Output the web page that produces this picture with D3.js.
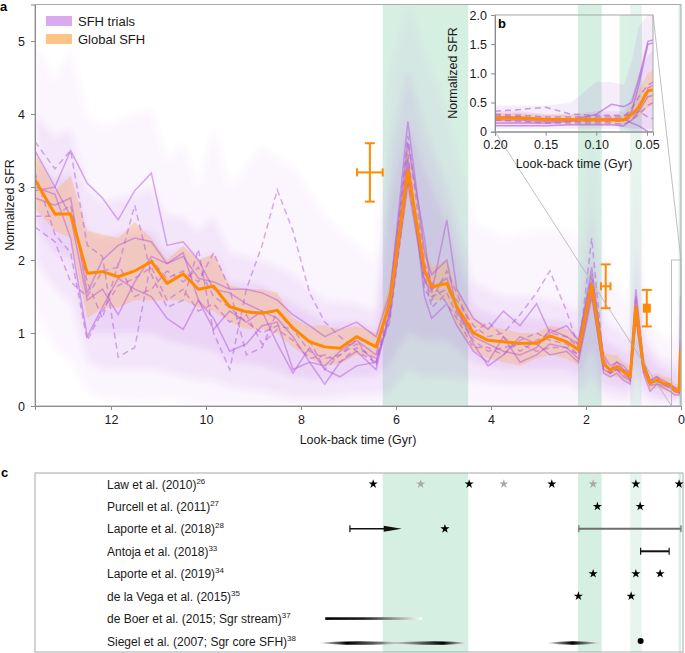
<!DOCTYPE html>
<html>
<head>
<meta charset="utf-8">
<script src="https://cdn.jsdelivr.net/npm/d3@7"></script>
<style>
  body { margin: 0; background: #fff; }
  svg { display: block; font-family: "Liberation Sans", Arial, sans-serif; }
</style>
</head>
<body>
<svg id="chart"></svg>
<script>
let width = 685;
let height = 653;
let fontFamily = "Liberation Sans, Arial, sans-serif";

// ---- panel a data ----
const timeBins = [13.6, 13.18, 12.85, 12.5, 12.18, 11.85, 11.5, 11.15, 10.82, 10.48,
  10.16, 9.84, 9.5, 9.15, 8.82, 8.5, 8.17, 7.82, 7.5, 7.18,
  6.83, 6.42, 6.13, 5.75, 5.4, 5.25, 4.93, 4.72, 4.37, 4.06,
  3.74, 3.39, 3.04, 2.76, 2.41, 2.16, 1.88, 1.63, 1.49, 1.35,
  1.21, 1.07, 0.95, 0.79, 0.65, 0.51, 0.37, 0.23, 0.13, 0.04, 0.01];

const globalSfh = [3.10, 2.63, 2.63, 1.82, 1.84, 1.77, 1.85, 1.98, 1.68, 1.81,
  1.60, 1.64, 1.36, 1.29, 1.27, 1.31, 1.07, 0.88, 0.81, 0.79,
  0.95, 0.81, 1.41, 3.23, 1.86, 1.63, 1.68, 1.36, 1.00, 0.90,
  0.88, 0.86, 0.86, 0.96, 0.88, 0.77, 1.66, 0.58, 0.49, 0.54,
  0.47, 0.40, 1.36, 0.54, 0.31, 0.36, 0.31, 0.29, 0.21, 0.21, 0.77];
const globalLow = [2.70, 2.40, 2.30, 1.20, 1.35, 1.35, 1.45, 1.45, 1.45, 1.45,
  1.35, 1.30, 1.15, 1.05, 1.05, 1.00, 0.80, 0.65, 0.55, 0.58,
  0.70, 0.65, 1.20, 2.90, 1.70, 1.45, 1.45, 1.10, 0.75, 0.65,
  0.60, 0.55, 0.65, 0.70, 0.65, 0.55, 1.40, 0.45, 0.40, 0.40,
  0.35, 0.30, 1.15, 0.40, 0.22, 0.25, 0.22, 0.20, 0.15, 0.15, 0.55];
const globalHigh = [3.50, 2.95, 3.15, 2.40, 2.35, 2.30, 2.52, 2.30, 2.00, 2.20,
  2.00, 2.08, 1.65, 1.60, 1.60, 1.55, 1.20, 1.10, 1.10, 1.05,
  1.10, 1.00, 1.70, 3.60, 2.20, 1.90, 2.00, 1.60, 1.20, 1.10,
  1.05, 1.00, 1.00, 1.10, 1.05, 0.95, 1.85, 0.75, 0.70, 0.70,
  0.60, 0.55, 1.55, 0.70, 0.42, 0.45, 0.40, 0.38, 0.30, 0.30, 1.00];

const trialSolidA = [3.50, 3.00, 3.50, 3.05, 2.85, 2.55, 2.95, 3.19, 2.20, 2.25,
  2.00, 1.60, 1.55, 1.40, 1.30, 1.20, 0.95, 0.60, 0.55, 0.75,
  0.90, 0.70, 1.50, 3.90, 2.10, 1.80, 2.00, 1.30, 0.95, 0.85,
  0.75, 0.70, 0.80, 1.05, 0.95, 0.85, 1.90, 0.60, 0.50, 0.60,
  0.50, 0.45, 1.60, 0.60, 0.35, 0.40, 0.30, 0.30, 0.25, 0.20, 1.50];
const trialSolidB = [3.00, 2.90, 2.30, 0.95, 1.35, 1.75, 1.60, 1.50, 1.20, 1.05,
  1.45, 1.20, 0.75, 0.85, 1.10, 1.15, 0.50, 0.60, 0.30, 0.60,
  0.75, 0.50, 1.30, 3.40, 1.50, 1.20, 1.40, 1.10, 0.75, 0.60,
  0.95, 0.60, 0.70, 0.85, 0.80, 0.65, 1.55, 0.45, 0.40, 0.45,
  0.35, 0.30, 1.20, 0.45, 0.20, 0.30, 0.25, 0.20, 0.15, 0.15, 0.60];
const trialSolidC = [2.85, 2.75, 2.85, 1.55, 2.00, 2.20, 2.30, 2.25, 1.95, 2.05,
  1.75, 1.70, 1.60, 1.60, 1.55, 1.45, 1.25, 1.10, 0.95, 1.05,
  1.15, 0.95, 1.55, 3.60, 2.30, 1.55, 2.55, 1.60, 1.20, 1.05,
  1.30, 1.10, 1.40, 1.00, 1.10, 0.90, 1.75, 0.70, 0.55, 0.60,
  0.55, 0.45, 1.50, 0.60, 0.35, 0.40, 0.35, 0.30, 0.25, 0.25, 0.90];
const trialSolidD = [2.95, 3.00, 2.60, 1.45, 1.60, 1.25, 1.70, 2.05, 1.95, 2.10,
  1.45, 1.05, 1.30, 1.15, 1.30, 0.85, 0.45, 0.80, 0.50, 0.40,
  0.55, 0.60, 1.25, 3.05, 1.70, 1.60, 1.75, 1.35, 0.85, 0.55,
  0.70, 0.95, 0.85, 0.70, 0.75, 0.60, 1.50, 0.50, 0.45, 0.50,
  0.40, 0.35, 1.30, 0.50, 0.28, 0.30, 0.28, 0.25, 0.20, 0.18, 0.50];
const trialDashedA = [3.62, 3.25, 3.50, 2.20, 2.05, 0.67, 0.80, 2.00, 1.75, 1.85,
  1.70, 2.10, 1.60, 0.70, 0.80, 1.30, 1.05, 0.75, 0.65, 0.70,
  0.90, 0.55, 1.35, 3.70, 1.95, 1.70, 1.40, 1.20, 0.80, 0.80,
  0.70, 0.90, 1.00, 0.90, 0.85, 0.70, 2.30, 0.60, 0.45, 0.55,
  0.50, 0.35, 1.45, 0.50, 0.30, 0.38, 0.30, 0.28, 0.20, 0.20, 0.70];
const trialDashedB = [2.45, 2.25, 1.70, 1.50, 1.85, 1.90, 2.75, 1.80, 1.35, 1.45,
  2.15, 1.00, 0.50, 1.60, 2.20, 2.96, 2.40, 1.55, 1.15, 0.95,
  0.75, 0.60, 1.20, 3.30, 1.75, 1.50, 1.60, 1.45, 1.10, 0.95,
  1.00, 1.25, 1.55, 1.85, 1.30, 0.80, 1.70, 0.55, 0.50, 0.50,
  0.45, 0.40, 1.25, 0.55, 0.35, 0.35, 0.30, 0.28, 0.22, 0.20, 0.80];
const trialDashedC = [2.60, 2.60, 2.75, 1.70, 1.20, 1.95, 1.50, 1.60, 1.85, 1.70,
  1.90, 1.50, 1.35, 1.15, 1.00, 1.10, 1.05, 0.90, 0.50, 0.70,
  0.85, 0.60, 1.45, 3.45, 1.60, 1.45, 1.85, 1.55, 1.00, 1.15,
  0.95, 0.75, 0.90, 1.00, 0.95, 0.80, 1.80, 0.65, 0.50, 0.55,
  0.50, 0.42, 1.40, 0.55, 0.32, 0.35, 0.32, 0.30, 0.22, 0.22, 0.75];
const trialDashedD = [3.20, 2.35, 2.10, 0.90, 1.30, 1.65, 1.75, 1.90, 1.45, 1.60,
  1.30, 1.40, 1.15, 1.25, 0.85, 1.05, 0.90, 0.65, 0.70, 0.60,
  0.80, 0.65, 1.15, 3.10, 1.80, 1.35, 1.55, 1.25, 0.90, 0.75,
  0.80, 0.85, 0.75, 0.80, 0.80, 0.70, 1.60, 0.50, 0.45, 0.50,
  0.42, 0.38, 1.20, 0.48, 0.30, 0.33, 0.30, 0.25, 0.20, 0.18, 0.60];

// spread of all trials (the purple haze)
const hazeTime = [13.6, 13.18, 12.85, 12.5, 12.18, 11.5, 11.15, 10.82, 10.48, 10.16,
  9.84, 9.5, 8.82, 8.17, 7.5, 6.83, 6.42, 6.13, 5.75, 5.4,
  4.93, 4.37, 3.74, 3.04, 2.41, 2.16, 1.88, 1.63, 1.21, 1.07,
  0.95, 0.79, 0.51, 0.23, 0.04, 0.01];
const hazeOuterLow = [1.3, 0.8, 0.6, 0.2, 0.1, 0.05, 0.05, 0.1, 0.05, 0,
  0, 0, 0, 0, 0, 0, 0, 0, 0, 0,
  0, 0, 0, 0, 0, 0, 0, 0, 0, 0,
  0, 0, 0, 0, 0, 0];
const hazeOuterHigh = [4.93, 4.47, 4.88, 3.96, 3.83, 3.99, 4.05, 3.37, 3.6, 3.0,
  3.82, 3.0, 3.55, 3.27, 2.6, 2.2, 2.0, 4.5, 5.5, 4.8,
  4.0, 2.5, 2.3, 2.4, 2.4, 2.2, 3.6, 1.9, 1.5, 1.3,
  3.2, 1.4, 1.0, 0.9, 1.0, 2.0];
const hazeMidLow = [2.0, 1.6, 1.4, 0.6, 0.5, 0.5, 0.5, 0.45, 0.4, 0.35,
  0.35, 0.25, 0.2, 0.1, 0.1, 0.15, 0.15, 0.2, 0.5, 0.4,
  0.4, 0.35, 0.3, 0.3, 0.3, 0.2, 0.4, 0.15, 0.1, 0.1,
  0.5, 0.1, 0.05, 0.05, 0.05, 0.1];
const hazeMidHigh = [4.0, 3.7, 3.8, 3.0, 2.8, 2.9, 3.0, 2.6, 2.6, 2.4,
  2.6, 2.1, 2.0, 1.8, 1.45, 1.4, 1.3, 3.5, 4.6, 3.8,
  3.0, 1.7, 1.5, 1.5, 1.4, 1.3, 2.6, 1.2, 1.0, 0.9,
  2.2, 1.0, 0.7, 0.6, 0.6, 1.5];
const hazeInnerLow = [2.5, 2.1, 2.0, 1.0, 1.0, 1.0, 1.0, 0.9, 0.85, 0.8,
  0.75, 0.6, 0.55, 0.4, 0.35, 0.4, 0.4, 0.6, 1.0, 0.9,
  0.9, 0.6, 0.5, 0.5, 0.5, 0.4, 0.8, 0.3, 0.25, 0.2,
  0.7, 0.25, 0.15, 0.12, 0.1, 0.3];
const hazeInnerHigh = [3.4, 3.1, 3.2, 2.4, 2.3, 2.4, 2.4, 2.1, 2.2, 2.0,
  2.1, 1.7, 1.65, 1.4, 1.15, 1.15, 1.05, 2.8, 3.9, 3.2,
  2.5, 1.35, 1.2, 1.2, 1.15, 1.0, 2.0, 0.9, 0.75, 0.65,
  1.7, 0.8, 0.55, 0.45, 0.45, 1.1];

// independent estimates (orange error bars)
const estTime = [6.55, 1.585, 0.72];
const estTimeErr = [0.27, 0.1, 0.08];
const estSfr = [3.2, 1.64, 1.34];
const estSfrErr = [0.4, 0.3, 0.25];
const estMarker = ["none", "none", "square"];

// pericentre passages (green bands), Gyr
const passages = [[6.28, 4.48], [2.17, 1.67], [1.07, 0.83], [0.05, 0]];

// ---- panel b data ----
const insetTime = [0.2, 0.175, 0.15, 0.125, 0.1, 0.085, 0.073, 0.065, 0.058, 0.049, 0.044];
const insetGlobal = [0.24, 0.23, 0.21, 0.21, 0.20, 0.20, 0.20, 0.30, 0.42, 0.70, 0.72];
const insetGlobalLow = [0.16, 0.15, 0.14, 0.14, 0.13, 0.13, 0.13, 0.18, 0.25, 0.42, 0.45];
const insetGlobalHigh = [0.32, 0.31, 0.29, 0.29, 0.28, 0.28, 0.28, 0.45, 0.7, 1.0, 1.05];
const insetHazeHigh = [0.45, 0.45, 0.45, 0.5, 0.85, 0.85, 0.8, 1.2, 1.8, 2.0, 2.0];
const insetHazeLow = [0.05, 0.05, 0.05, 0.05, 0.05, 0.05, 0.05, 0, 0, 0, 0];
const insetHazeMidHigh = [0.35, 0.35, 0.3, 0.3, 0.35, 0.35, 0.35, 0.6, 1.0, 1.3, 1.4];
const insetHazeMidLow = [0.1, 0.1, 0.1, 0.1, 0.1, 0.1, 0.08, 0.05, 0.05, 0.05, 0.05];
const insetSolidA = [0.15, 0.15, 0.15, 0.18, 0.2, 0.2, 0.2, 0.35, 0.8, 1.5, 1.52];
const insetSolidB = [0.2, 0.2, 0.18, 0.2, 0.3, 0.47, 0.43, 0.5, 0.9, 1.55, 1.57];
const insetSolidC = [0.1, 0.1, 0.1, 0.12, 0.12, 0.12, 0.1, 0.2, 0.35, 0.6, 0.62];
const insetSolidD = [0.25, 0.25, 0.22, 0.22, 0.22, 0.22, 0.22, 0.15, 0.1, 0.0, 0.0];
const insetDashedA = [0.35, 0.38, 0.42, 0.3, 0.28, 0.28, 0.28, 0.3, 0.35, 0.25, 0.22];
const insetDashedB = [0.3, 0.28, 0.25, 0.25, 0.25, 0.25, 0.25, 0.4, 0.6, 0.8, 0.85];
const insetDashedC = [0.2, 0.18, 0.15, 0.15, 0.15, 0.15, 0.12, 0.2, 0.3, 0.45, 0.5];
const insetDashedD = [0.28, 0.25, 0.2, 0.18, 0.18, 0.18, 0.18, 0.25, 0.45, 0.75, 0.8];
const insetPassages = [[0.077, 0.055]];

// ---- panel c data ----
const refNames = ["Law et al. (2010)", "Purcell et al. (2011)", "Laporte et al. (2018)",
  "Antoja et al. (2018)", "Laporte et al. (2019)", "de la Vega et al. (2015)",
  "de Boer et al. (2015; Sgr stream)", "Siegel et al. (2007; Sgr core SFH)"];
const refNums = ["26", "27", "28", "33", "34", "35", "37", "38"];
const starRef = [0, 0, 0, 0, 0, 0, 0, 0, 1, 1, 2, 4, 4, 4, 5, 5];
const starTime = [6.48, 5.48, 4.46, 3.73, 2.72, 1.85, 0.95, 0.04, 1.76, 0.86, 4.97, 1.85, 0.95, 0.44, 2.16, 1.05];
const starFaint = [false, true, false, true, false, true, false, false, false, false, false, false, false, false, false, false];
const rangeRef = [2, 3];
const rangeFrom = [2.15, 0.85];
const rangeTo = [0, 0.25];
const arrowFrom = 6.97;
const arrowTo = 5.88;
const streamFrom = 7.49;
const streamTo = 5.45;
const siegelFrom = [7.64, 6.29, 2.86];
const siegelPeak = [7.03, 5.01, 2.29];
const siegelTo = [5.5, 4.48, 1.64];
const siegelPoint = 0.85;

// ---- setup ----
let svg = d3.select("svg#chart").attr("width", width).attr("height", height);
let defs = svg.append("defs");

let xScale = d3.scaleLinear().domain([13.6, 0]).range([35, 681]);
let yScale = d3.scaleLinear().domain([0, 5.5]).range([406, 4.5]);

let insetX = d3.scaleLinear().domain([0.2, 0.044]).range([495, 653]);
let insetY = d3.scaleLinear().domain([0, 2]).range([131.7, 15]);

let rowScale = d3.scalePoint().domain(d3.range(refNames.length)).range([484, 641]);

const purple = "#a752d4";
const lineColor = "#b35ad8";
const orange = "#ff8a00";
const bandGreen = "#d6efe3";
const bandGreenLight = "#e7f5ee";

defs.append("clipPath").attr("id", "clip-a")
  .append("rect").attr("x", 35).attr("y", 4.5).attr("width", 646).attr("height", 401.5);
defs.append("clipPath").attr("id", "clip-b")
  .append("rect").attr("x", 495).attr("y", 15).attr("width", 158).attr("height", 116.7);
defs.append("filter").attr("id", "soften")
  .attr("x", "-5%").attr("y", "-5%").attr("width", "110%").attr("height", "110%")
  .append("feGaussianBlur").attr("stdDeviation", 3);

function styleAxis(g, size) {
  g.attr("font-family", fontFamily).attr("font-size", size);
  g.selectAll("path, line").attr("stroke", "#8c8c8c");
  g.selectAll("text").attr("fill", "#1a1a1a");
}

function rows(time, lo, hi) {
  return time.map((t, i) => ({ t: t, lo: lo[i], hi: hi[i] }));
}

drawPanelA();
drawPanelB();
drawPanelC();

function drawPanelA() {
  let plot = svg.append("g").attr("clip-path", "url(#clip-a)");

  plot.append("g")
    .selectAll("rect")
    .data(passages)
    .join("rect")
    .attr("x", (d) => xScale(d[0]))
    .attr("width", (d) => xScale(d[1]) - xScale(d[0]))
    .attr("y", 4.5)
    .attr("height", 401.5)
    .attr("fill", (d, i) => (i === 2 ? bandGreenLight : bandGreen));

  let band = d3.area()
    .x((d) => xScale(d.t))
    .y0((d) => yScale(d.lo))
    .y1((d) => yScale(d.hi));

  let hazeLayers = [
    [hazeOuterLow, hazeOuterHigh, 0.05],
    [hazeMidLow, hazeMidHigh, 0.09],
    [hazeInnerLow, hazeInnerHigh, 0.12],
  ];
  let haze = plot.append("g").attr("filter", "url(#soften)");
  hazeLayers.forEach((layer) => {
    haze.append("path")
      .attr("d", band(rows(hazeTime, layer[0], layer[1])))
      .attr("fill", purple)
      .attr("opacity", layer[2]);
  });

  plot.append("path")
    .attr("d", band(rows(timeBins, globalLow, globalHigh)))
    .attr("fill", "#ffab55")
    .attr("opacity", 0.32);

  let line = d3.line().x((d, i) => xScale(timeBins[i])).y((d) => yScale(d));

  let solids = [trialSolidA, trialSolidB, trialSolidC, trialSolidD];
  let dashed = [trialDashedA, trialDashedB, trialDashedC, trialDashedD];

  plot.append("g")
    .selectAll("path")
    .data(solids)
    .join("path")
    .attr("d", line)
    .attr("fill", "none")
    .attr("stroke", lineColor)
    .attr("stroke-width", 1.5)
    .attr("opacity", 0.5);

  plot.append("g")
    .selectAll("path")
    .data(dashed)
    .join("path")
    .attr("d", line)
    .attr("fill", "none")
    .attr("stroke", lineColor)
    .attr("stroke-width", 1.5)
    .attr("stroke-dasharray", "6,4")
    .attr("opacity", 0.5);

  plot.append("path")
    .attr("d", line(globalSfh))
    .attr("fill", "none")
    .attr("stroke", orange)
    .attr("stroke-width", 3)
    .attr("stroke-linejoin", "round");

  // error bars
  let errs = svg.append("g").attr("stroke", orange).attr("stroke-width", 2).attr("fill", "none");
  estTime.forEach((t, i) => {
    let cx = xScale(t);
    let cy = yScale(estSfr[i]);
    let y0 = yScale(estSfr[i] - estSfrErr[i]);
    let y1 = yScale(estSfr[i] + estSfrErr[i]);
    let x0 = xScale(t + estTimeErr[i]);
    let x1 = xScale(t - estTimeErr[i]);
    errs.append("line").attr("x1", cx).attr("x2", cx).attr("y1", y0).attr("y2", y1);
    errs.append("line").attr("x1", cx - 5).attr("x2", cx + 5).attr("y1", y0).attr("y2", y0);
    errs.append("line").attr("x1", cx - 5).attr("x2", cx + 5).attr("y1", y1).attr("y2", y1);
    errs.append("line").attr("x1", x0).attr("x2", x1).attr("y1", cy).attr("y2", cy);
    if (estMarker[i] === "square") {
      errs.append("rect").attr("x", cx - 4).attr("y", cy - 4.5).attr("width", 8).attr("height", 9)
        .attr("fill", orange).attr("stroke", "none");
    } else {
      errs.append("line").attr("x1", x0).attr("x2", x0).attr("y1", cy - 4).attr("y2", cy + 4);
      errs.append("line").attr("x1", x1).attr("x2", x1).attr("y1", cy - 4).attr("y2", cy + 4);
    }
  });

  // frame & axes
  svg.append("rect")
    .attr("x", 35).attr("y", 4.5).attr("width", 646).attr("height", 401.5)
    .attr("fill", "none").attr("stroke", "#a8a8a8").attr("stroke-width", 1);

  svg.append("g")
    .attr("transform", "translate(0,406)")
    .call(d3.axisBottom(xScale).tickValues([12, 10, 8, 6, 4, 2, 0]).tickSize(4).tickPadding(5).tickFormat(d3.format("d")))
    .call((g) => styleAxis(g, 12.5));

  svg.append("g")
    .attr("transform", "translate(35,0)")
    .call(d3.axisLeft(yScale).tickValues([0, 1, 2, 3, 4, 5]).tickSize(4).tickPadding(6).tickFormat(d3.format("d")))
    .call((g) => styleAxis(g, 12.5));

  svg.append("text")
    .attr("x", 358).attr("y", 444)
    .attr("text-anchor", "middle")
    .attr("font-size", 12.5)
    .attr("fill", "#1a1a1a")
    .text("Look-back time (Gyr)");

  svg.append("text")
    .attr("transform", "translate(14,205) rotate(-90)")
    .attr("text-anchor", "middle")
    .attr("font-size", 12.5)
    .attr("fill", "#1a1a1a")
    .text("Normalized SFR");

  // legend
  let legend = svg.append("g");
  legend.append("rect").attr("x", 46).attr("y", 16).attr("width", 26).attr("height", 10).attr("fill", "#dba9ee");
  legend.append("rect").attr("x", 46).attr("y", 34).attr("width", 26).attr("height", 10).attr("fill", "#fdc488");
  legend.append("text").attr("x", 78).attr("y", 25.5).attr("font-size", 13).attr("fill", "#1a1a1a").text("SFH trials");
  legend.append("text").attr("x", 78).attr("y", 43.5).attr("font-size", 13).attr("fill", "#1a1a1a").text("Global SFH");

  svg.append("text").attr("x", 0).attr("y", 11).attr("font-size", 13).attr("font-weight", "bold").text("a");

  // zoom box & connectors
  let zoomG = svg.append("g").attr("stroke", "#b0b0b0").attr("stroke-width", 0.8).attr("fill", "none");
  zoomG.append("rect")
    .attr("x", xScale(0.2)).attr("y", yScale(2))
    .attr("width", xScale(0) - xScale(0.2)).attr("height", yScale(0) - yScale(2));
  zoomG.append("line")
    .attr("x1", xScale(0.2)).attr("y1", yScale(0))
    .attr("x2", insetX(0.2)).attr("y2", insetY(0));
  zoomG.append("line")
    .attr("x1", xScale(0)).attr("y1", yScale(2))
    .attr("x2", insetX(0.044)).attr("y2", insetY(2));
}

function drawPanelB() {
  let plot = svg.append("g").attr("clip-path", "url(#clip-b)");

  plot.append("g")
    .selectAll("rect")
    .data(insetPassages)
    .join("rect")
    .attr("x", (d) => insetX(d[0]))
    .attr("width", (d) => insetX(d[1]) - insetX(d[0]))
    .attr("y", 15)
    .attr("height", 116.7)
    .attr("fill", bandGreen)
    .attr("opacity", 0.9);

  let band = d3.area()
    .x((d) => insetX(d.t))
    .y0((d) => insetY(d.lo))
    .y1((d) => insetY(d.hi));

  plot.append("path").attr("d", band(rows(insetTime, insetHazeLow, insetHazeHigh)))
    .attr("fill", purple).attr("opacity", 0.1);
  plot.append("path").attr("d", band(rows(insetTime, insetHazeMidLow, insetHazeMidHigh)))
    .attr("fill", purple).attr("opacity", 0.12);
  plot.append("path").attr("d", band(rows(insetTime, insetGlobalLow, insetGlobalHigh)))
    .attr("fill", "#ffab55").attr("opacity", 0.32);

  let line = d3.line().x((d, i) => insetX(insetTime[i])).y((d) => insetY(d));

  plot.append("g")
    .selectAll("path")
    .data([insetSolidA, insetSolidB, insetSolidC, insetSolidD])
    .join("path")
    .attr("d", line)
    .attr("fill", "none")
    .attr("stroke", lineColor)
    .attr("stroke-width", 1.5)
    .attr("opacity", 0.6);

  plot.append("g")
    .selectAll("path")
    .data([insetDashedA, insetDashedB, insetDashedC, insetDashedD])
    .join("path")
    .attr("d", line)
    .attr("fill", "none")
    .attr("stroke", lineColor)
    .attr("stroke-width", 1.5)
    .attr("stroke-dasharray", "6,4")
    .attr("opacity", 0.6);

  plot.append("path")
    .attr("d", line(insetGlobal))
    .attr("fill", "none")
    .attr("stroke", orange)
    .attr("stroke-width", 3)
    .attr("stroke-linejoin", "round");

  svg.append("rect")
    .attr("x", 495).attr("y", 15).attr("width", 158).attr("height", 116.7)
    .attr("fill", "none").attr("stroke", "#a8a8a8");

  svg.append("g")
    .attr("transform", "translate(0,131.7)")
    .call(d3.axisBottom(insetX).tickValues([0.2, 0.15, 0.1, 0.05]).tickSize(4).tickPadding(4).tickFormat(d3.format(".2f")))
    .call((g) => styleAxis(g, 12.5));

  svg.append("g")
    .attr("transform", "translate(495,0)")
    .call(d3.axisLeft(insetY).tickValues([0, 0.5, 1, 1.5, 2]).tickSize(4).tickPadding(4)
      .tickFormat((d) => (d === 0 ? "0" : d3.format(".1f")(d))))
    .call((g) => styleAxis(g, 12.5));

  svg.append("text")
    .attr("x", 574).attr("y", 168)
    .attr("text-anchor", "middle")
    .attr("font-size", 12.5)
    .attr("fill", "#1a1a1a")
    .text("Look-back time (Gyr)");

  svg.append("text")
    .attr("transform", "translate(457,73) rotate(-90)")
    .attr("text-anchor", "middle")
    .attr("font-size", 12.5)
    .attr("fill", "#1a1a1a")
    .text("Normalized SFR");

  svg.append("text").attr("x", 498).attr("y", 28).attr("font-size", 13).attr("font-weight", "bold").text("b");
}

function drawPanelC() {
  let top = 473;
  let bottom = 652;
  let g = svg.append("g");

  g.append("g")
    .selectAll("rect")
    .data(passages)
    .join("rect")
    .attr("x", (d) => xScale(d[0]))
    .attr("width", (d) => xScale(d[1]) - xScale(d[0]))
    .attr("y", top)
    .attr("height", bottom - top)
    .attr("fill", (d, i) => (i === 2 ? bandGreenLight : bandGreen));

  g.append("rect")
    .attr("x", 35).attr("y", top).attr("width", 648).attr("height", bottom - top)
    .attr("fill", "none").attr("stroke", "#a8a8a8");

  let labels = g.append("g")
    .selectAll("text")
    .data(refNames)
    .join("text")
    .attr("x", 107)
    .attr("y", (d, i) => rowScale(i) + 4.5)
    .attr("font-size", 12)
    .attr("fill", "#1a1a1a");
  labels.append("tspan").text((d) => d);
  labels.append("tspan").attr("font-size", 8).attr("dy", -5).text((d, i) => refNums[i]);

  // stars
  g.append("g")
    .selectAll("path")
    .data(starTime)
    .join("path")
    .attr("transform", (d, i) => `translate(${xScale(d)},${rowScale(starRef[i])})`)
    .attr("d", d3.symbol().type(d3.symbolStar).size(26))
    .attr("fill", (d, i) => (starFaint[i] ? "#a9a9a9" : "#000"));

  // ranges with caps
  rangeFrom.forEach((t, i) => {
    let yy = rowScale(rangeRef[i]);
    let col = i === 0 ? "#6e6e6e" : "#111";
    let rg = g.append("g").attr("stroke", col).attr("stroke-width", 2);
    rg.append("line").attr("x1", xScale(t)).attr("x2", xScale(rangeTo[i])).attr("y1", yy).attr("y2", yy);
    rg.append("line").attr("x1", xScale(t)).attr("x2", xScale(t)).attr("y1", yy - 3.5).attr("y2", yy + 3.5).attr("stroke-width", 1.2);
    rg.append("line").attr("x1", xScale(rangeTo[i])).attr("x2", xScale(rangeTo[i])).attr("y1", yy - 3.5).attr("y2", yy + 3.5).attr("stroke-width", 1.2);
  });

  // Laporte 2018 arrow
  let ay = rowScale(2);
  let ax0 = xScale(arrowFrom);
  let ax1 = xScale(arrowTo);
  g.append("line").attr("x1", ax0).attr("x2", ax1 - 16).attr("y1", ay).attr("y2", ay)
    .attr("stroke", "#111").attr("stroke-width", 1.5);
  g.append("line").attr("x1", ax0).attr("x2", ax0).attr("y1", ay - 3.5).attr("y2", ay + 3.5)
    .attr("stroke", "#111").attr("stroke-width", 1.2);
  g.append("path")
    .attr("d", `M${ax1 - 18},${ay - 3}L${ax1},${ay}L${ax1 - 18},${ay + 3}Z`)
    .attr("fill", "#111");

  // de Boer stream: fading bar
  let sg = defs.append("linearGradient").attr("id", "stream-grad");
  sg.append("stop").attr("offset", 0).attr("stop-color", "#000");
  sg.append("stop").attr("offset", 0.4).attr("stop-color", "#222");
  sg.append("stop").attr("offset", 1).attr("stop-color", "#fff");
  let sy = rowScale(6);
  g.append("rect")
    .attr("x", xScale(streamFrom)).attr("y", sy - 1.3)
    .attr("width", xScale(streamTo) - xScale(streamFrom)).attr("height", 2.6)
    .attr("fill", "url(#stream-grad)");

  // Siegel core SFH: spindles
  let ly = rowScale(7) + 2;
  siegelFrom.forEach((t, i) => {
    let xa = xScale(t);
    let xp = xScale(siegelPeak[i]);
    let xb = xScale(siegelTo[i]);
    let grad = defs.append("linearGradient")
      .attr("id", `siegel-${i}`)
      .attr("gradientUnits", "userSpaceOnUse")
      .attr("x1", xa).attr("x2", xb).attr("y1", 0).attr("y2", 0);
    grad.append("stop").attr("offset", 0).attr("stop-color", "#fff");
    grad.append("stop").attr("offset", (xp - xa) / (xb - xa)).attr("stop-color", "#000");
    grad.append("stop").attr("offset", 1).attr("stop-color", "#fff");
    g.append("path")
      .attr("d", `M${xa},${ly}Q${xp},${ly - 3.5} ${xb},${ly}Q${xp},${ly + 3.5} ${xa},${ly}Z`)
      .attr("fill", `url(#siegel-${i})`);
  });
  g.append("circle")
    .attr("cx", xScale(siegelPoint)).attr("cy", rowScale(7))
    .attr("r", 3).attr("fill", "#000");

  svg.append("text").attr("x", 1).attr("y", 477).attr("font-size", 13).attr("font-weight", "bold").text("c");
}
</script>
</body>
</html>
